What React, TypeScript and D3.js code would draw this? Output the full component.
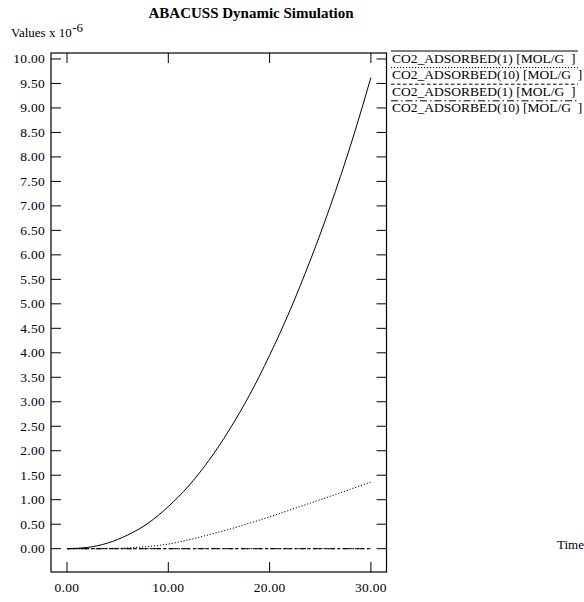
import React from "react";
import * as d3 from "d3";

const times = [0, 2, 4, 6, 8, 10, 12, 14, 16, 18, 20, 22, 24, 26, 28, 30];
const co2Ads1 = [0, 0.025, 0.114, 0.28, 0.52, 0.86, 1.28, 1.8, 2.42, 3.13, 3.95, 4.86, 5.88, 7.0, 8.24, 9.62];
const co2Ads10 = [0, 0, 0.004, 0.016, 0.045, 0.095, 0.18, 0.285, 0.395, 0.52, 0.65, 0.79, 0.93, 1.07, 1.215, 1.36];
const co2Ads1b = [0, 0, 0, 0, 0, 0, 0, 0, 0, 0, 0, 0, 0, 0, 0, 0];
const co2Ads10b = [0, 0, 0, 0, 0, 0, 0, 0, 0, 0, 0, 0, 0, 0, 0, 0];
const seriesNames = [
  "CO2_ADSORBED(1) [MOL/G  ]",
  "CO2_ADSORBED(10) [MOL/G  ]",
  "CO2_ADSORBED(1) [MOL/G  ]",
  "CO2_ADSORBED(10) [MOL/G  ]",
];
const xTicks = [0, 10, 20, 30];
const yTicks = [0, 0.5, 1, 1.5, 2, 2.5, 3, 3.5, 4, 4.5, 5, 5.5, 6, 6.5, 7, 7.5, 8, 8.5, 9, 9.5, 10];

const dashes = ["none", "1.2,1.8", "3.5,2.5", "7,3,1.5,3"];
const FONT = "'Liberation Serif', 'Times New Roman', serif";

export default function App() {
  const L = 51, R = 386.5, T = 53, B = 572;
  const x = d3.scaleLinear().domain([-1.58, 31.54]).range([L, R]);
  const y = d3.scaleLinear().domain([-0.476, 10.122]).range([B, T]);
  const series = [co2Ads1, co2Ads10, co2Ads1b, co2Ads10b];
  const line = d3
    .line<number>()
    .x((_, i) => x(times[i]))
    .y((d) => y(d))
    .curve(d3.curveMonotoneX);
  const tl = 10;
  return (
    <svg width={584} height={602} style={{ position: "absolute", left: 0, top: 0, background: "#fff" }} fontFamily={FONT}>
      <rect x={0} y={0} width={584} height={602} fill="#fff" />
      <text x={251} y={18} textAnchor="middle" fontSize={15} fontWeight="bold">
        ABACUSS Dynamic Simulation
      </text>
      <text x={11} y={37} fontSize={13}>
        Values x 10<tspan dy={-5.5} dx={0.5} fontSize={13}>-6</tspan>
      </text>
      <rect x={L} y={T} width={R - L} height={B - T} fill="none" stroke="#000" strokeWidth={1.2} />
      {xTicks.map((t) => (
        <g key={"x" + t}>
          <line x1={x(t)} x2={x(t)} y1={B} y2={B - tl} stroke="#000" />
          <line x1={x(t)} x2={x(t)} y1={T} y2={T + tl} stroke="#000" />
          <text x={x(t)} y={592} textAnchor="middle" fontSize={13.5} letterSpacing={0.3}>
            {t.toFixed(2)}
          </text>
        </g>
      ))}
      {yTicks.map((v) => (
        <g key={"y" + v}>
          <line x1={L} x2={L + tl} y1={y(v)} y2={y(v)} stroke="#000" />
          <line x1={R} x2={R - tl} y1={y(v)} y2={y(v)} stroke="#000" />
          <text x={45} y={y(v) + 4.5} textAnchor="end" fontSize={13.5} letterSpacing={0.3}>
            {v.toFixed(2)}
          </text>
        </g>
      ))}
      {series.map((s, i) => (
        <path key={"s" + i} d={line(s) || ""} fill="none" stroke="#000" strokeWidth={1} strokeDasharray={dashes[i]} />
      ))}
      {seriesNames.map((n, i) => (
        <g key={"l" + i}>
          <line x1={391} x2={578} y1={51 + i * 16.6} y2={51 + i * 16.6} stroke="#000" strokeWidth={1} strokeDasharray={dashes[i]} />
          <text x={392} y={62.5 + i * 16.6} fontSize={13.5} style={{ whiteSpace: "pre" }}>
            {n}
          </text>
        </g>
      ))}
      <text x={557} y={549} fontSize={13}>
        Time
      </text>
    </svg>
  );
}
